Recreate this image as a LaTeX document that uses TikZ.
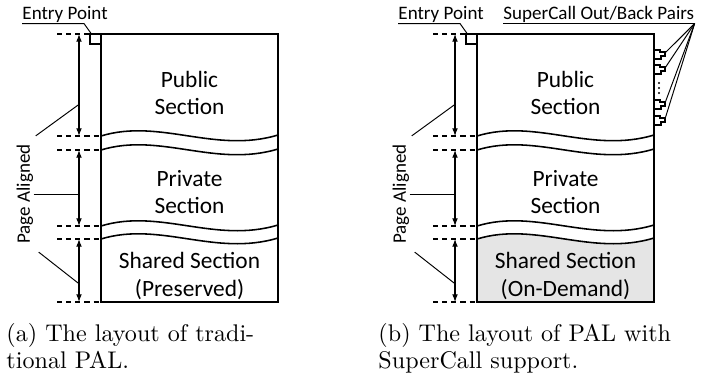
\documentclass[tikz,border=0pt]{standalone}
\usepackage{fontspec}
\newfontfamily\calfont{Carlito}
\usetikzlibrary{arrows.meta,calc}

\begin{document}
\begin{tikzpicture}[x=0.415pt,y=-0.415pt,
	sect/.style={font=\calfont\fontsize{9.7}{11.3}\selectfont,align=center},
	lbl/.style={font=\calfont\fontsize{7.9}{9}\selectfont,inner sep=0},
	outline/.style={line width=0.65pt},
	hair/.style={line width=0.4pt},
	guide/.style={dash pattern=on 2.1pt off 1.7pt,line width=0.6pt},
	pgspan/.style={{Latex[length=3.2pt,width=2.4pt]}-{Latex[length=3.2pt,width=2.4pt]},line width=0.45pt},
	subcap/.style={anchor=north west,inner sep=0,align=left,font=\fontsize{10}{11.3}\selectfont}]
	\useasboundingbox (0,0) rectangle (713,375);
	\foreach \p/\sx/\shade/\keep in {a/0/white/Preserved,b/376/gray!20/On-Demand}{
	\begin{scope}[shift={(\sx,0)}]
		\fill[\shade] (101,239) .. controls (160,221) and (215,257) .. (278,238) -- (278,302) -- (101,302) -- cycle;
		\draw[outline] (101,34) rectangle (278,302);
		\foreach \y in {136,150,226,239}
			\draw[outline] (101,\y) .. controls (160,{\y-18}) and (215,{\y+18}) .. (278,{\y-1});
		\foreach \i/\y in {0/34,1/136,2/150,3/226,4/239,5/302}{
			\draw[guide] (57,\y) -- (101,\y);
			\coordinate (m\i-\p) at (79,\y);
		}
		\draw[pgspan] (m0-\p) -- (m1-\p);
		\draw[pgspan] (m2-\p) -- (m3-\p);
		\draw[pgspan] (m4-\p) -- (m5-\p);
		\node[sect] (pub-\p) at (189.5,93) {Public\\Section};
		\node[sect] (priv-\p) at (189.5,192) {Private\\Section};
		\node[sect] (shr-\p) at (189.5,276) {Shared Section\\(\keep)};
		\node[lbl,rotate=90] (pg-\p) at (25,194) {Page Aligned};
		\draw[hair] ([shift={(2,-8)}]pg-\p.south east) -- ($(m0-\p)!0.69!(m1-\p)$);
		\draw[hair] (pg-\p.south) -- (pg-\p.south -| m2-\p);
		\draw[hair] ([shift={(5,8)}]pg-\p.south west) -- ($(m4-\p)!0.71!(m5-\p)$);
		\node[lbl,anchor=base west] (ent-\p) at (22,20) {Entry Point};
		\node[draw,outline,inner sep=0,minimum width=4.4pt,minimum height=4.2pt] (ep-\p) at (95.5,39) {};
		\draw[hair] (ent-\p.south west) -- ++(62,0) -- ([xshift=0.6pt]ep-\p.north west);
	\end{scope}}
	\node[lbl,anchor=base west] (sc) at (503,20) {SuperCall Out/Back Pairs};
	\draw[hair] (sc.south west) -- (sc.south east);
	\foreach \i/\y in {1/50,2/65,3/100,4/116}{
		\draw[outline] (653,\y) -- ++(7,0) -- ++(0,2) -- ++(5,0) -- ++(0,4) -- ++(-4,0) -- ++(0,3) -- (653,{\y+9});
		\coordinate (pin\i) at (665,{\y+3});
		\draw[hair] (sc.south east) -- (pin\i);
	}
	\foreach \y in {83,88,93}
		\fill (659,\y) circle (0.45pt);
	\node[subcap,text width=113.7pt] (cap-a) at (6,323) {\noindent\makebox[\hsize][s]{(a) The layout of tradi-}\\tional PAL.};
	\node[subcap,text width=111.6pt] (cap-b) at (378,323) {\noindent\makebox[\hsize][s]{(b) The layout of PAL with}\\SuperCall support.};
\end{tikzpicture}
\end{document}
